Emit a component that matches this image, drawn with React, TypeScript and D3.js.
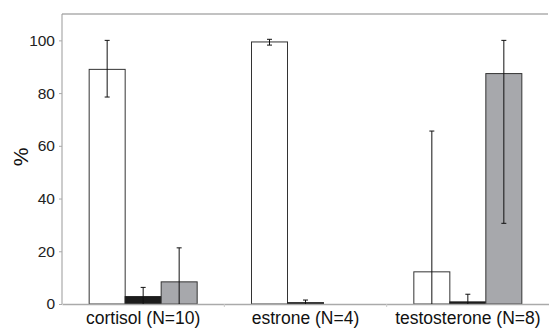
import { useEffect, useRef } from "react";
import * as d3 from "d3";

// values (%), three bars per hormone
const categories = ["cortisol (N=10)", "estrone (N=4)", "testosterone (N=8)"];
const seriesKeys = ["white", "black", "gray"];
const whiteValues = [89.0, 99.4, 12.2];
const blackValues = [2.8, 0.5, 0.8];
const grayValues = [8.4, 0, 87.4];
// error bars: [low, high]
const whiteErrors = [[78.5, 100], [98.2, 100.4], [0, 65.6]];
const blackErrors = [[0, 6.3], [0, 1.5], [0, 3.7]];
const grayErrors = [[0, 21.3], null, [30.6, 100]];
const yTicks = [0, 20, 40, 60, 80, 100];

const fills: Record<string, string> = {
  white: "#ffffff",
  black: "#1c1c1c",
  gray: "#a7a8ac",
};

const FONT = "'Liberation Sans', Arial, sans-serif";

export default function App() {
  const svgRef = useRef<SVGSVGElement>(null);

  useEffect(() => {
    const svg = d3.select(svgRef.current);
    svg.selectAll("*").remove();

    const width = 549;
    const height = 330;
    const margin = { top: 14, right: 0, bottom: 26, left: 62 };
    const innerW = 549 - margin.left - margin.right;
    const innerH = height - margin.top - margin.bottom;

    const values = [whiteValues, blackValues, grayValues];
    const errors = [whiteErrors, blackErrors, grayErrors];

    const rows = categories.flatMap((cat, ci) =>
      seriesKeys.map((key, si) => ({
        cat,
        key,
        value: values[si][ci],
        err: errors[si][ci],
      }))
    );

    const x0 = d3.scaleBand().domain(categories).range([0, innerW]).padding(0);
    const x1 = d3
      .scaleBand()
      .domain(seriesKeys)
      .range([x0.bandwidth() / 2 - 54, x0.bandwidth() / 2 + 54]);
    const y = d3.scaleLinear().domain([0, 110]).range([innerH, 0]);

    svg.attr("width", width).attr("height", height).style("display", "block");

    const g = svg
      .append("g")
      .attr("transform", `translate(${margin.left},${margin.top})`);

    // frame: top line
    g.append("line")
      .attr("x1", 0)
      .attr("x2", innerW - 1)
      .attr("y1", 0)
      .attr("y2", 0)
      .attr("stroke", "#c2c2c2")
      .attr("stroke-width", 2);

    // bars
    g.selectAll("rect.bar")
      .data(rows.filter((r) => r.value > 0))
      .join("rect")
      .attr("class", "bar")
      .attr("x", (d) => (x0(d.cat) as number) + (x1(d.key) as number))
      .attr("y", (d) => y(d.value))
      .attr("width", x1.bandwidth())
      .attr("height", (d) => innerH - y(d.value))
      .attr("fill", (d) => fills[d.key])
      .attr("stroke", (d) => (d.key === "black" ? "#1c1c1c" : "#333"))
      .attr("stroke-width", 1);

    // y axis
    const yAxis = g
      .append("g")
      .call(d3.axisLeft(y).tickValues(yTicks).tickSize(3).tickPadding(4));
    yAxis.select(".domain").attr("stroke", "#999").attr("d", `M0,0V${innerH}`);
    yAxis.selectAll(".tick line").attr("stroke", "#aaa");
    yAxis
      .selectAll("text")
      .style("font-family", FONT)
      .style("font-size", "15.5px")
      .attr("fill", "#222");

    // x axis
    const xAxis = g
      .append("g")
      .attr("transform", `translate(0,${innerH})`)
      .call(d3.axisBottom(x0).tickSize(0).tickPadding(8));
    xAxis.select(".domain").attr("stroke", "#aaa").attr("stroke-width", 1.5);
    xAxis
      .selectAll("text")
      .style("font-family", FONT)
      .style("font-size", "17.5px")
      .attr("fill", "#111");

    // small separator ticks between categories
    g.selectAll("line.sep")
      .data(categories.slice(1))
      .join("line")
      .attr("class", "sep")
      .attr("x1", (d) => x0(d) as number)
      .attr("x2", (d) => x0(d) as number)
      .attr("y1", innerH)
      .attr("y2", innerH + 3)
      .attr("stroke", "#ccc");

    // error bars
    const errRows = rows.filter((r) => r.err);
    const cx = (d: any) =>
      (x0(d.cat) as number) + (x1(d.key) as number) + x1.bandwidth() / 2;

    g.selectAll("line.err")
      .data(errRows)
      .join("line")
      .attr("class", "err")
      .attr("x1", cx)
      .attr("x2", cx)
      .attr("y1", (d: any) => y(d.err[0]))
      .attr("y2", (d: any) => y(d.err[1]))
      .attr("stroke", "#111")
      .attr("stroke-width", 1);

    g.selectAll("line.capTop")
      .data(errRows)
      .join("line")
      .attr("class", "capTop")
      .attr("x1", (d) => cx(d) - 2.5)
      .attr("x2", (d) => cx(d) + 2.5)
      .attr("y1", (d: any) => y(d.err[1]))
      .attr("y2", (d: any) => y(d.err[1]))
      .attr("stroke", "#111");

    g.selectAll("line.capBot")
      .data(errRows.filter((d: any) => d.err[0] > 0))
      .join("line")
      .attr("class", "capBot")
      .attr("x1", (d) => cx(d) - 2.5)
      .attr("x2", (d) => cx(d) + 2.5)
      .attr("y1", (d: any) => y(d.err[0]))
      .attr("y2", (d: any) => y(d.err[0]))
      .attr("stroke", "#111");

    // y title
    svg
      .append("text")
      .attr("transform", `translate(28,${margin.top + 143}) rotate(-90)`)
      .attr("text-anchor", "middle")
      .style("font-family", FONT)
      .style("font-size", "21px")
      .attr("fill", "#111")
      .text("%");
  }, []);

  return (
    <div style={{ position: "absolute", left: 0, top: 0 }}>
      <svg ref={svgRef} />
    </div>
  );
}
